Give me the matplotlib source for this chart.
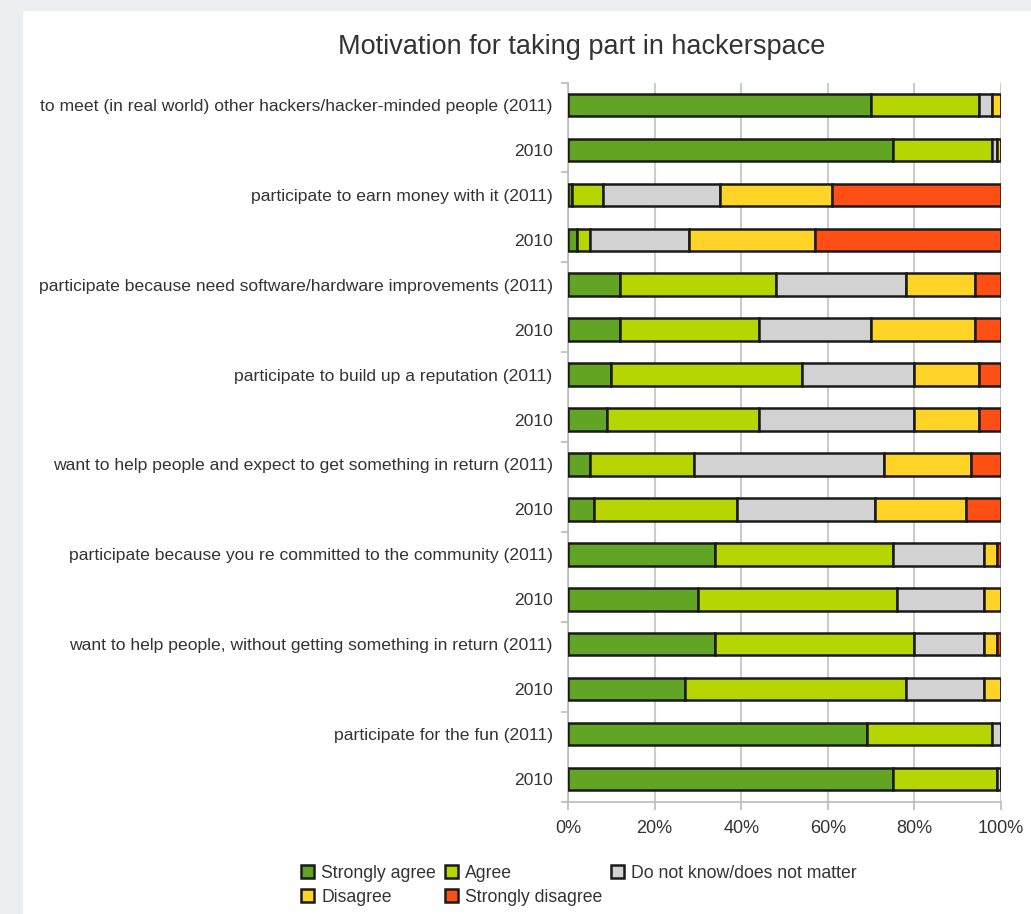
import matplotlib.pyplot as plt
from matplotlib.patches import Rectangle, Patch
import numpy as np

plt.rcParams['font.family'] = ['Liberation Sans', 'DejaVu Sans']

labels = [
    "to meet (in real world) other hackers/hacker-minded people (2011)", "2010",
    "participate to earn money with it (2011)", "2010",
    "participate because need software/hardware improvements (2011)", "2010",
    "participate to build up a reputation (2011)", "2010",
    "want to help people and expect to get something in return (2011)", "2010",
    "participate because you re committed to the community (2011)", "2010",
    "want to help people, without getting something in return (2011)", "2010",
    "participate for the fun (2011)", "2010",
]

strongly_agree = [70, 75, 1, 2, 12, 12, 10, 9, 5, 6, 34, 30, 34, 27, 69, 75]
agree = [25, 23, 7, 3, 36, 32, 44, 35, 24, 33, 41, 46, 46, 51, 29, 24]
dont_know = [3, 1, 27, 23, 30, 26, 26, 36, 44, 32, 21, 20, 16, 18, 2, 1]
disagree = [2, 1, 26, 29, 16, 24, 15, 15, 20, 21, 3, 4, 3, 4, 0, 0]
strongly_disagree = [0, 0, 39, 43, 6, 6, 5, 5, 7, 8, 1, 0, 1, 0, 0, 0]

series_names = ["Strongly agree", "Agree", "Do not know/does not matter",
                "Disagree", "Strongly disagree"]
colors = ["#62a524", "#b7d500", "#d2d2d2", "#ffd426", "#ff4f14"]
edge = "#1a1a1a"

fig = plt.figure(figsize=(10.31, 9.14), dpi=100)
fig.patch.set_facecolor("white")
# screenshot frame
fig.patches.append(Rectangle((0, 0), 22 / 1031, 1, transform=fig.transFigure,
                             color="#eceef1", zorder=0))
fig.patches.append(Rectangle((0, 1 - 10 / 914), 1, 10 / 914, transform=fig.transFigure,
                             color="#eceef1", zorder=0))

ax = fig.add_axes([568 / 1031, 1 - 801.5 / 914, 433 / 1031, (801.5 - 82.5) / 914])

y = np.arange(len(labels))
left = np.zeros(len(labels))
handles = []
for vals, name, c in zip([strongly_agree, agree, dont_know, disagree, strongly_disagree],
                         series_names, colors):
    vals = np.array(vals, dtype=float)
    ax.barh(y, vals, left=left, height=0.5, color=c, edgecolor=edge,
            linewidth=1.8, zorder=3)
    left += vals
    handles.append(Patch(facecolor=c, edgecolor=edge, linewidth=1.8, label=name))

ax.set_xlim(0, 100)
ax.set_ylim(len(labels) - 0.5, -0.5)
ax.set_xticks(np.arange(0, 101, 20))
ax.set_xticklabels([f"{v}%" for v in range(0, 101, 20)])
ax.set_yticks(y)
ax.set_yticklabels(labels)
ax.set_yticks(np.arange(-0.5, len(labels), 2), minor=True)
ax.tick_params(axis="y", which="major", length=0, pad=11, labelsize=12.6, labelcolor="#333333")
ax.tick_params(axis="y", which="minor", length=5, color="#bbbbbb", width=1.2)
ax.tick_params(axis="x", length=6, color="#bbbbbb", width=1.2, labelsize=13,
               labelcolor="#333333", pad=7)
ax.xaxis.grid(True, color="#cccccc", linewidth=1.5, zorder=0)
ax.set_axisbelow(True)
for s in ["top", "right"]:
    ax.spines[s].set_visible(False)
for s in ["left", "bottom"]:
    ax.spines[s].set_color("#bbbbbb")
    ax.spines[s].set_linewidth(1.2)

fig.text(582 / 1031, 1 - 47 / 914, "Motivation for taking part in hackerspace",
         ha="center", va="center", fontsize=19.5, color="#333333")

order = [0, 3, 1, 4, 2]
fig.legend([handles[i] for i in order], [series_names[i] for i in order],
           ncol=3, frameon=False, loc="upper left",
           bbox_to_anchor=(285 / 1031, 1 - 849 / 914), fontsize=12.7,
           handlelength=0.75, handleheight=0.75, handletextpad=0.4,
           columnspacing=0.5, labelspacing=0.38, labelcolor="#333333")

fig.savefig("out.png", dpi=100)
